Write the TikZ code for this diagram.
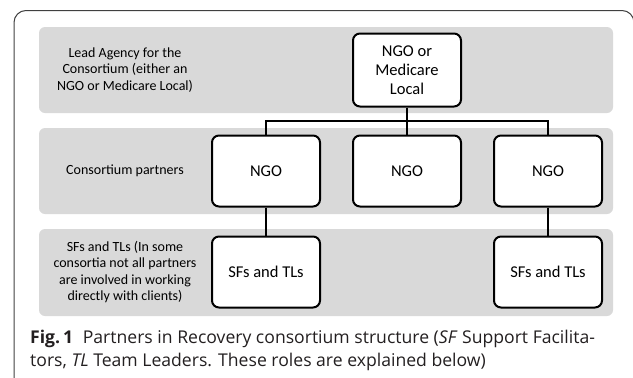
\documentclass[tikz,border=0pt]{standalone}
\usepackage{fontspec}
\setmainfont{Carlito}
\newfontfamily\capfont{Open Sans}
\definecolor{band}{HTML}{D9D9D9}
\definecolor{frame}{HTML}{404040}
\definecolor{captext}{HTML}{231F20}
\newcommand{\capsize}{\capfont\fontsize{17.6}{19}\selectfont}
\begin{document}
\begin{tikzpicture}[x=1pt,y=-1pt,
  bandbox/.style={fill=band,draw=none,rounded corners=6pt},
  orgbox/.style={draw=black,line width=2pt,fill=white,rounded corners=7pt,minimum width=108pt,minimum height=71pt,inner sep=0pt,align=center,font=\fontsize{16.5}{19}\selectfont},
  lbl/.style={align=center,font=\fontsize{14}{16.2}\selectfont},
  captxt/.style={anchor=base west,inner sep=0pt,text=captext},
  link/.style={draw=black,line width=1.6pt}]
\useasboundingbox (0,0) rectangle (633,378);
\begin{scope}
\clip (0,0) rectangle (633,378);
\draw[frame,line width=1pt,rounded corners=12pt] (14,400) -- (14,10.5) -- (634,10.5) -- (634,400);
\end{scope}
\fill[bandbox] (39,27) rectangle (613,113);
\fill[bandbox] (39,128) rectangle (613,214);
\fill[bandbox] (39,229) rectangle (613,316);
\node[lbl] (l1) at (125,70) {Lead Agency for the\\Consortium (either an\\NGO or Medicare Local)};
\node[lbl] (l2) at (125,171) {Consortium partners};
\node[lbl] (l3) at (125,272) {SFs and TLs (In some\\consortia not all partners\\are involved in working\\directly with clients)};
\node[orgbox,minimum height=73pt] (lead) at (407,70) {NGO or\\Medicare\\Local};
\node[orgbox] (n1) at (266,171) {NGO};
\node[orgbox] (n2) at (407,171) {NGO};
\node[orgbox] (n3) at (548,171) {NGO};
\node[orgbox] (s1) at (266,272) {SFs and TLs};
\node[orgbox] (s3) at (548,272) {SFs and TLs};
\coordinate (bar) at (407,121);
\draw[link] (lead.south) -- (n2.north);
\draw[link] (n1.north) -- (n1.north |- bar) -- (n3.north |- bar) -- (n3.north);
\draw[link] (n1.south) -- (s1.north);
\draw[link] (n3.south) -- (s3.north);
\node[captxt] (cap1) at (30,343) {\capsize\textbf{Fig.\,1}\hspace{0.55em}Partners in Recovery consortium structure (\textit{SF} Support Facilita-};
\node[captxt] (cap2) at (30,366) {\capsize tors, \textit{TL} Team Leaders. These roles are explained below)};
\end{tikzpicture}
\end{document}
